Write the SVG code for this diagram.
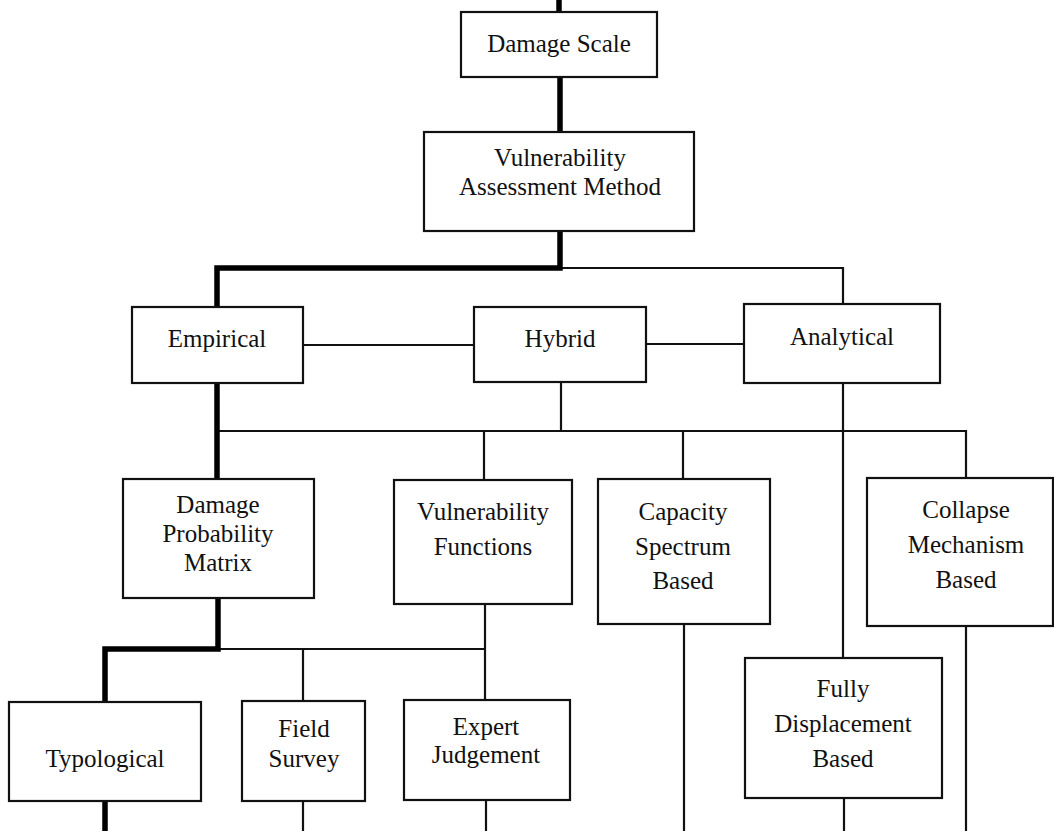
<svg xmlns="http://www.w3.org/2000/svg" width="1054" height="831" viewBox="0 0 1054 831">
<style>
.box{fill:#fff;stroke:#111;stroke-width:2.2}
.thin{fill:none;stroke:#111;stroke-width:2.2}
.thick{fill:none;stroke:#000;stroke-width:5.5;stroke-linejoin:miter}
text{font-family:"Liberation Serif","Times New Roman",serif;font-size:25px;fill:#111;text-anchor:middle}
</style>
<rect width="1054" height="831" fill="#fff"/>
<g id="connectors">
<path class="thin" d="M560 268 H843 V304"/>
<path class="thin" d="M303 345 H474"/>
<path class="thin" d="M646 344 H744"/>
<path class="thin" d="M561 382 V431"/>
<path class="thin" d="M217 431 H966 V478"/>
<path class="thin" d="M484 431 V480"/>
<path class="thin" d="M683 431 V479"/>
<path class="thin" d="M843 383 V658"/>
<path class="thin" d="M217 649 H485"/>
<path class="thin" d="M303 649 V701"/>
<path class="thin" d="M485 604 V700"/>
<path class="thin" d="M684 624 V831"/>
<path class="thin" d="M966 626 V831"/>
<path class="thin" d="M844 798 V831"/>
<path class="thin" d="M303 801 V831"/>
<path class="thin" d="M486 800 V831"/>
<path class="thick" d="M559 0 V12"/>
<path class="thick" d="M560 77 V132"/>
<path class="thick" d="M560 231 V268 H217 V307"/>
<path class="thick" d="M217 383 V479"/>
<path class="thick" d="M218 598 V649 H105 V702"/>
<path class="thick" d="M105 801 V831"/>
</g>
<g id="damage-scale"><rect class="box" x="461" y="12" width="196" height="65"/><text x="559" y="52">Damage Scale</text></g>
<g id="vam"><rect class="box" x="424" y="132" width="270" height="99"/><text x="560" y="166">Vulnerability</text><text x="560" y="195">Assessment Method</text></g>
<g id="empirical"><rect class="box" x="132" y="307" width="171" height="76"/><text x="217" y="347">Empirical</text></g>
<g id="hybrid"><rect class="box" x="474" y="307" width="172" height="75"/><text x="560" y="347">Hybrid</text></g>
<g id="analytical"><rect class="box" x="744" y="304" width="196" height="79"/><text x="842" y="345">Analytical</text></g>
<g id="dpm"><rect class="box" x="123" y="479" width="191" height="119"/><text x="218" y="513">Damage</text><text x="218" y="542">Probability</text><text x="218" y="571">Matrix</text></g>
<g id="vf"><rect class="box" x="394" y="480" width="178" height="124"/><text x="483" y="520">Vulnerability</text><text x="483" y="555">Functions</text></g>
<g id="csb"><rect class="box" x="598" y="479" width="172" height="145"/><text x="683" y="520">Capacity</text><text x="683" y="555">Spectrum</text><text x="683" y="589">Based</text></g>
<g id="cmb"><rect class="box" x="867" y="478" width="186" height="148"/><text x="966" y="518">Collapse</text><text x="966" y="553">Mechanism</text><text x="966" y="588">Based</text></g>
<g id="fdb"><rect class="box" x="745" y="658" width="197" height="140"/><text x="843" y="697">Fully</text><text x="843" y="732">Displacement</text><text x="843" y="767">Based</text></g>
<g id="typological"><rect class="box" x="9" y="702" width="192" height="99"/><text x="105" y="767">Typological</text></g>
<g id="field-survey"><rect class="box" x="242" y="701" width="123" height="100"/><text x="304" y="737">Field</text><text x="304" y="767">Survey</text></g>
<g id="expert"><rect class="box" x="404" y="700" width="166" height="100"/><text x="486" y="735">Expert</text><text x="486" y="763">Judgement</text></g>
</svg>
